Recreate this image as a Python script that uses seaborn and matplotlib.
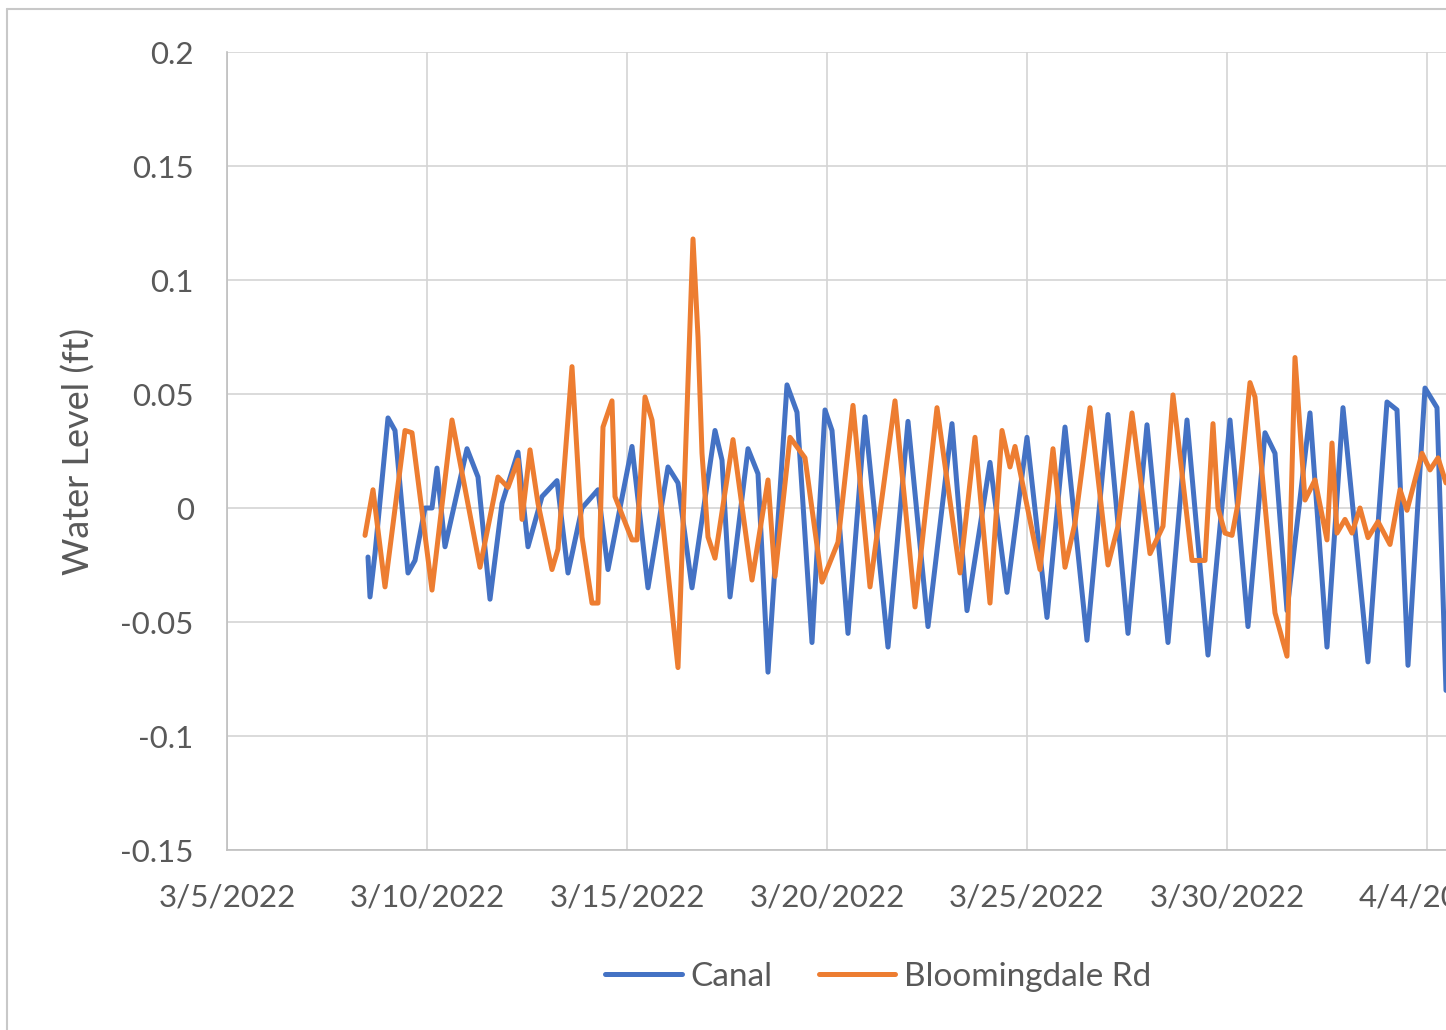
import seaborn as sns
import numpy as np
import matplotlib.pyplot as plt
import matplotlib.dates as mdates
from matplotlib.lines import Line2D
import pandas as pd

# days since 3/5/2022 00:00 (peaks and troughs)
canal_days = [3.525, 3.575, 3.70, 4.025, 4.20, 4.525, 4.70, 4.95, 5.125, 5.25,
              5.45, 6.00, 6.275, 6.575, 6.875, 7.275, 7.525, 7.875, 8.25, 8.525,
              8.875, 9.275, 9.525, 10.125, 10.525, 11.025, 11.275, 11.625, 12.20, 12.375,
              12.575, 13.025, 13.275, 13.525, 14.00, 14.25, 14.625, 14.95, 15.125, 15.525,
              15.95, 16.525, 17.025, 17.525, 18.125, 18.50, 19.075, 19.50, 20.00, 20.50,
              20.95, 21.50, 22.025, 22.525, 23.00, 23.525, 24.00, 24.525, 25.075, 25.525,
              25.95, 26.20, 26.50, 27.075, 27.50, 27.90, 28.525, 29.00, 29.25, 29.525,
              29.95, 30.25, 30.475]
canal_level = [-0.0215, -0.039, -0.020, 0.0395, 0.034, -0.0285, -0.023, 0.000, 0.000, 0.0175,
               -0.017, 0.026, 0.0136, -0.040, 0.002, 0.0245, -0.017, 0.005, 0.012, -0.0285,
               0.000, 0.008, -0.027, 0.027, -0.035, 0.018, 0.011, -0.035, 0.034, 0.021,
               -0.039, 0.026, 0.015, -0.072, 0.054, 0.042, -0.059, 0.043, 0.034, -0.055,
               0.040, -0.061, 0.038, -0.052, 0.037, -0.045, 0.020, -0.037, 0.031, -0.048,
               0.0355, -0.058, 0.041, -0.055, 0.0365, -0.059, 0.0386, -0.0645, 0.0386, -0.052,
               0.033, 0.024, -0.045, 0.0417, -0.061, 0.044, -0.0675, 0.0465, 0.043, -0.069,
               0.0526, 0.044, -0.080]

bloom_days = [3.45, 3.65, 3.95, 4.45, 4.625, 5.125, 5.625, 6.325, 6.775, 7.025,
              7.275, 7.375, 7.575, 7.775, 8.125, 8.275, 8.625, 8.875, 9.125, 9.275,
              9.40, 9.625, 9.70, 10.125, 10.25, 10.45, 10.625, 11.275, 11.65, 11.775,
              11.875, 12.025, 12.20, 12.65, 13.125, 13.525, 13.70, 14.075, 14.45, 14.875,
              15.275, 15.65, 16.075, 16.70, 17.20, 17.75, 18.325, 18.70, 19.075, 19.375,
              19.575, 19.70, 20.325, 20.65, 20.95, 21.20, 21.575, 22.025, 22.275, 22.625,
              23.075, 23.40, 23.65, 24.125, 24.45, 24.65, 24.775, 24.95, 25.125, 25.275,
              25.575, 25.70, 26.20, 26.50, 26.70, 26.95, 27.20, 27.50, 27.625, 27.75,
              27.95, 28.125, 28.325, 28.525, 28.775, 29.075, 29.325, 29.50, 29.875, 30.075,
              30.275, 30.475]
bloom_level = [-0.012, 0.008, -0.0346, 0.034, 0.033, -0.036, 0.0386, -0.026, 0.0136, 0.009,
               0.021, -0.005, 0.0255, 0.002, -0.027, -0.018, 0.062, -0.0127, -0.0417, -0.0417,
               0.0355, 0.047, 0.005, -0.014, -0.014, 0.0487, 0.0386, -0.070, 0.118, 0.075,
               0.024, -0.0127, -0.022, 0.030, -0.0316, 0.0123, -0.030, 0.031, 0.022, -0.0325,
               -0.015, 0.045, -0.0346, 0.047, -0.0434, 0.044, -0.0285, 0.031, -0.0417, 0.034,
               0.018, 0.027, -0.027, 0.026, -0.026, -0.0066, 0.044, -0.025, -0.008, 0.0417,
               -0.020, -0.008, 0.0496, -0.023, -0.023, 0.037, 0.000, -0.011, -0.012, 0.002,
               0.055, 0.0487, -0.046, -0.065, 0.066, 0.0035, 0.0123, -0.014, 0.0285, -0.011,
               -0.005, -0.011, 0.000, -0.013, -0.006, -0.016, 0.008, -0.001, 0.024, 0.0167,
               0.022, 0.011]

series_names = ["Canal", "Bloomingdale Rd"]
series_colors = ["#4472C4", "#ED7D31"]
y_ticks = [-0.15, -0.1, -0.05, 0, 0.05, 0.1, 0.15, 0.2]
y_labels = ["-0.15", "-0.1", "-0.05", "0", "0.05", "0.1", "0.15", "0.2"]

start = pd.Timestamp("2022-03-05")
df = pd.concat([
    pd.DataFrame({"time": start + pd.to_timedelta(canal_days, unit="D"),
                  "level": canal_level, "series": series_names[0]}),
    pd.DataFrame({"time": start + pd.to_timedelta(bloom_days, unit="D"),
                  "level": bloom_level, "series": series_names[1]}),
])

sns.set_style("white")
plt.rcParams['font.family'] = ['Lato', 'DejaVu Sans']
text_col = "#595959"

fig = plt.figure(figsize=(14.46, 10.30), dpi=100)
ax = fig.add_axes([227/1446, 1 - 850/1030, 1 - 227/1446, (850 - 52)/1030])

sns.lineplot(data=df, x="time", y="level", hue="series", palette=series_colors,
             estimator=None, sort=False, lw=3.6, ax=ax, legend=False)
for ln in ax.lines:
    ln.set_solid_joinstyle("round")
    ln.set_solid_capstyle("round")

ax.set_xlim(start, start + pd.Timedelta(days=30.475))
ax.set_ylim(-0.15, 0.2)
ax.set_yticks(y_ticks)
ax.set_yticklabels(y_labels)
xt = [start + pd.Timedelta(days=5 * k) for k in range(7)]
ax.set_xticks(xt)
ax.set_xticklabels([f"{t.month}/{t.day}/{t.year}" for t in xt])

ax.grid(True, color="#d4d4d4", lw=1.2)
ax.set_axisbelow(True)
for s in ["top", "right"]:
    ax.spines[s].set_visible(False)
for s in ["left", "bottom"]:
    ax.spines[s].set_color("#bfbfbf")
    ax.spines[s].set_linewidth(1.2)
ax.tick_params(axis="y", length=0, pad=24, labelsize=22.5, labelcolor=text_col)
ax.tick_params(axis="x", length=0, pad=24, labelsize=22.5, labelcolor=text_col)
ax.set_xlabel("")
ax.set_ylabel("Water Level (ft)", fontsize=26, color=text_col, labelpad=18)

# outer chart border
fig.add_artist(Line2D([7/1446, 7/1446], [0, 1 - 9/1030], transform=fig.transFigure,
                      color="#c8c8c8", lw=1.5))
fig.add_artist(Line2D([7/1446, 1], [1 - 9/1030, 1 - 9/1030], transform=fig.transFigure,
                      color="#c8c8c8", lw=1.5))

handles = [Line2D([], [], color=c, lw=3.6) for c in series_colors]
fig.legend(handles, series_names, loc="center", bbox_to_anchor=(878/1446, 1 - 977/1030),
           ncol=2, frameon=False, fontsize=24, handlelength=2.3, handletextpad=0.25,
           columnspacing=1.4, labelcolor=text_col)

fig.savefig("out.png", dpi=100)
